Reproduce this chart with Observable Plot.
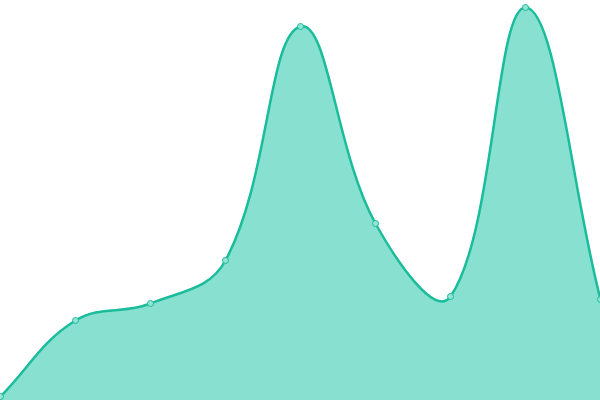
<!DOCTYPE html>
<html>
<head>
<meta charset="utf-8">
<style>
  html, body { margin: 0; padding: 0; background: #fff; }
  #chart svg { display: block; }
</style>
<script src="https://cdn.jsdelivr.net/npm/d3@7"></script>
<script src="https://cdn.jsdelivr.net/npm/@observablehq/plot@0.6"></script>
</head>
<body>
<div id="chart"></div>
<script>
const categories = [0, 1, 2, 3, 4, 5, 6, 7, 8];
const values = [4, 80, 97, 140, 374, 177, 104, 393, 101];

const data = categories.map((c, i) => ({ x: c, y: values[i] }));

const lineColor = "#1abc9c";
const fillColor = "#88e0d0";

// Distance-weighted spline (tension-based), as a d3-style curve factory.
function splineCurve(tension) {
  return function (context) {
    let pts = [];
    let line = NaN;
    return {
      areaStart() { line = 0; },
      areaEnd() { line = NaN; },
      lineStart() { pts = []; },
      point(x, y) { pts.push([+x, +y]); },
      lineEnd() {
        const n = pts.length;
        if (n) {
          if (line) context.lineTo(pts[0][0], pts[0][1]);
          else context.moveTo(pts[0][0], pts[0][1]);
          const cpPrev = [], cpNext = [];
          for (let i = 0; i < n; i++) {
            const cur = pts[i];
            const prev = i > 0 ? pts[i - 1] : cur;
            const next = i < n - 1 ? pts[i + 1] : cur;
            const d01 = Math.hypot(cur[0] - prev[0], cur[1] - prev[1]);
            const d12 = Math.hypot(next[0] - cur[0], next[1] - cur[1]);
            let s01 = d01 / (d01 + d12), s12 = d12 / (d01 + d12);
            if (isNaN(s01)) s01 = 0;
            if (isNaN(s12)) s12 = 0;
            const fa = tension * s01, fb = tension * s12;
            cpPrev.push([cur[0] - fa * (next[0] - prev[0]), cur[1] - fa * (next[1] - prev[1])]);
            cpNext.push([cur[0] + fb * (next[0] - prev[0]), cur[1] + fb * (next[1] - prev[1])]);
          }
          for (let i = 1; i < n; i++) {
            context.bezierCurveTo(cpNext[i - 1][0], cpNext[i - 1][1], cpPrev[i][0], cpPrev[i][1], pts[i][0], pts[i][1]);
          }
        }
        if (line || (line !== 0 && n === 1)) context.closePath();
        line = 1 - line;
      }
    };
  };
}

const curve = splineCurve(0.4);

const chart = Plot.plot({
  width: 600,
  height: 400,
  margin: 0,
  x: { domain: [0, 8], axis: null },
  y: { domain: [0, 400], axis: null },
  marks: [
    Plot.areaY(data, { x: "x", y: "y", fill: fillColor, fillOpacity: 1, curve }),
    Plot.lineY(data, { x: "x", y: "y", stroke: lineColor, strokeWidth: 2.5, curve }),
    Plot.dot(data, { x: "x", y: "y", r: 3, fill: "#93e4d4", stroke: lineColor, strokeWidth: 1 })
  ]
});
document.getElementById("chart").appendChild(chart);
</script>
</body>
</html>
